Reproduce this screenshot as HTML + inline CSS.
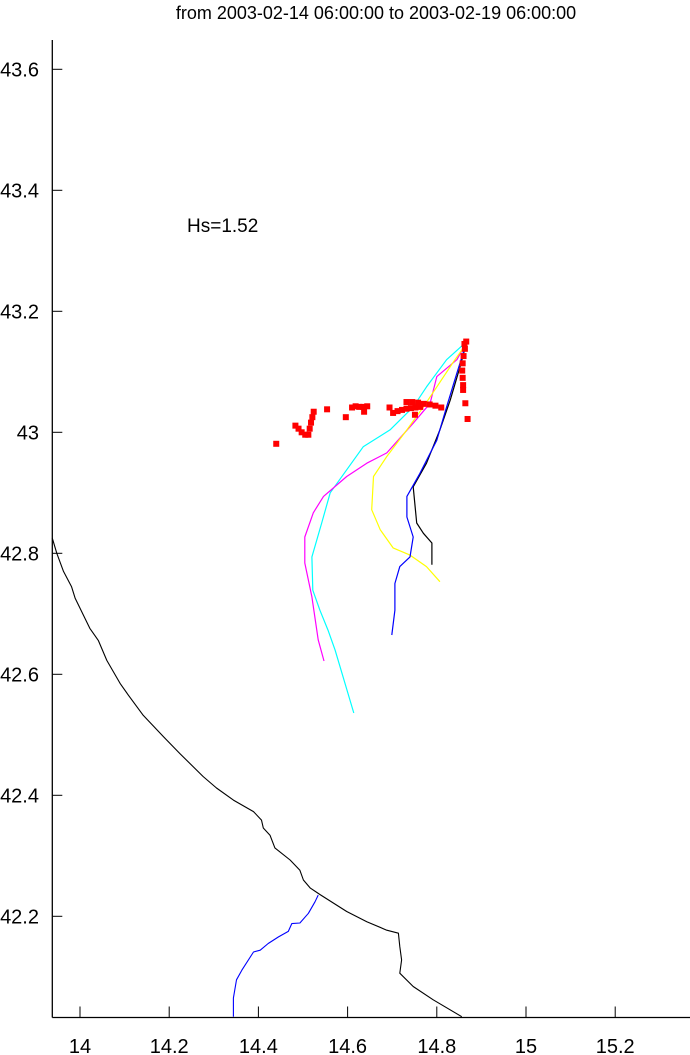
<!DOCTYPE html>
<html><head><meta charset="utf-8"><style>
html,body{margin:0;padding:0;background:#fff;}
svg{display:block;font-family:"Liberation Sans",sans-serif;}
</style></head><body>
<svg id="chart" width="690" height="1055" viewBox="0 0 690 1055" xmlns="http://www.w3.org/2000/svg">
<rect width="690" height="1055" fill="#fff"/>
<text x="376" y="19" font-size="18" text-anchor="middle">from 2003-02-14 06:00:00 to 2003-02-19 06:00:00</text>
<text x="187" y="232" font-size="19">Hs=1.52</text>
<g id="plot"></g>
</svg>
<script>
const xTicks=[14,14.2,14.4,14.6,14.8,15,15.2];
const xTickLabels=["14","14.2","14.4","14.6","14.8","15","15.2"];
const yTicks=[42.2,42.4,42.6,42.8,43,43.2,43.4,43.6];
const yTickLabels=["42.2","42.4","42.6","42.8","43","43.2","43.4","43.6"];
const coastLon=[13.938,13.948,13.963,13.981,13.989,14.022,14.041,14.060,14.090,14.108,14.142,14.187,14.224,14.276,14.306,14.344,14.389,14.407,14.411,14.426,14.437,14.471,14.493,14.501,14.516,14.538,14.598,14.643,14.688,14.714,14.717,14.721,14.717,14.747,14.792,14.856];
const coastLat=[42.825,42.800,42.770,42.745,42.726,42.676,42.656,42.623,42.585,42.566,42.532,42.497,42.469,42.431,42.412,42.392,42.373,42.359,42.346,42.334,42.313,42.293,42.276,42.260,42.247,42.236,42.208,42.191,42.177,42.172,42.150,42.128,42.106,42.084,42.062,42.034];
const riverLon=[14.534,14.527,14.512,14.493,14.475,14.467,14.445,14.422,14.404,14.389,14.363,14.351,14.344,14.344];
const riverLat=[42.235,42.224,42.205,42.189,42.188,42.175,42.166,42.155,42.144,42.141,42.111,42.095,42.065,42.034];
const cyanLon=[14.867,14.822,14.777,14.747,14.695,14.635,14.598,14.561,14.542,14.520,14.522,14.538,14.556,14.572,14.614];
const cyanLat=[43.150,43.120,43.075,43.042,43.004,42.976,42.938,42.900,42.850,42.794,42.739,42.706,42.673,42.640,42.536];
const magentaLon=[14.867,14.845,14.800,14.785,14.747,14.688,14.643,14.598,14.546,14.523,14.504,14.504,14.520,14.534,14.547];
const magentaLat=[43.150,43.120,43.092,43.048,43.015,42.966,42.949,42.927,42.894,42.867,42.827,42.784,42.728,42.657,42.622];
const yellowLon=[14.867,14.856,14.836,14.800,14.770,14.733,14.688,14.658,14.654,14.673,14.702,14.740,14.777,14.807];
const yellowLat=[43.150,43.136,43.115,43.075,43.042,43.004,42.960,42.927,42.872,42.839,42.809,42.797,42.778,42.753];
const blueLon=[14.867,14.845,14.822,14.800,14.762,14.733,14.733,14.747,14.740,14.717,14.706,14.706,14.699];
const blueLat=[43.150,43.098,43.042,42.987,42.932,42.894,42.860,42.827,42.794,42.778,42.750,42.706,42.665];
const blackLon=[14.867,14.852,14.830,14.807,14.777,14.747,14.755,14.770,14.789,14.789];
const blackLat=[43.150,43.108,43.053,43.004,42.949,42.910,42.850,42.833,42.817,42.781];
const redLon=[14.440,14.483,14.490,14.497,14.505,14.512,14.515,14.518,14.521,14.524,14.554,14.596,14.610,14.618,14.626,14.635,14.644,14.637,14.694,14.702,14.712,14.722,14.732,14.742,14.752,14.763,14.732,14.745,14.758,14.771,14.784,14.797,14.810,14.751,14.866,14.863,14.860,14.858,14.857,14.858,14.859,14.859,14.862,14.864,14.869];
const redLat=[42.981,43.011,43.006,43.000,42.996,42.996,43.006,43.016,43.025,43.034,43.038,43.025,43.041,43.043,43.042,43.042,43.043,43.034,43.041,43.032,43.035,43.037,43.039,43.040,43.041,43.042,43.050,43.050,43.049,43.047,43.046,43.044,43.041,43.029,43.150,43.138,43.126,43.114,43.102,43.090,43.078,43.070,43.146,43.048,43.022];

const NS="http://www.w3.org/2000/svg";
const g=document.getElementById('plot');
const X0=52.3, Y0=1017.5;
function xs(lon){return 80+(lon-14)*446;}
function ys(lat){return 432.3-(lat-43)*605;}
function mk(tag,attrs){const e=document.createElementNS(NS,tag);for(const k in attrs)e.setAttribute(k,attrs[k]);g.appendChild(e);return e;}
function line(lon,lat,color,name,w){
  const d=lon.map((v,i)=>(i?'L':'M')+xs(v).toFixed(1)+' '+ys(lat[i]).toFixed(1)).join(' ');
  const p=mk('path',{d:d,fill:'none',stroke:color,'stroke-width':w||1.2,'stroke-linejoin':'round'});
  
  
}
// axes
const ya=mk('line',{x1:X0,y1:40,x2:X0,y2:Y0,stroke:'#000','stroke-width':1.3});


const xa=mk('line',{x1:X0,y1:Y0,x2:690,y2:Y0,stroke:'#000','stroke-width':1.3});


xTicks.forEach((v,i)=>{
  const x=xs(v);
  const t=mk('line',{x1:x,y1:Y0,x2:x,y2:Y0-11,stroke:'#000','stroke-width':1});
  
  
  const l=mk('text',{x:x,y:1053,'font-size':20,'text-anchor':'middle'});
  l.textContent=xTickLabels[i];
  
  
});
yTicks.forEach((v,i)=>{
  const y=ys(v);
  const t=mk('line',{x1:X0,y1:y,x2:X0+10,y2:y,stroke:'#000','stroke-width':1});
  
  
  const l=mk('text',{x:39,y:y+7,'font-size':20,'text-anchor':'end'});
  l.textContent=yTickLabels[i];
  
  
});
line(coastLon,coastLat,'#000','coastline',1.1);
line(riverLon,riverLat,'#0000ff','river',1.1);
line(cyanLon,cyanLat,'#00ffff','track-cyan');
line(magentaLon,magentaLat,'#ff00ff','track-magenta');
line(yellowLon,yellowLat,'#ffff00','track-yellow');
line(blackLon,blackLat,'#000','track-black');
line(blueLon,blueLat,'#0000ff','track-blue');
redLon.forEach((v,i)=>{
  const r=mk('rect',{x:xs(v)-3,y:ys(redLat[i])-3,width:6,height:6,fill:'#ff0000'});
  
  
});
</script>
</body></html>
